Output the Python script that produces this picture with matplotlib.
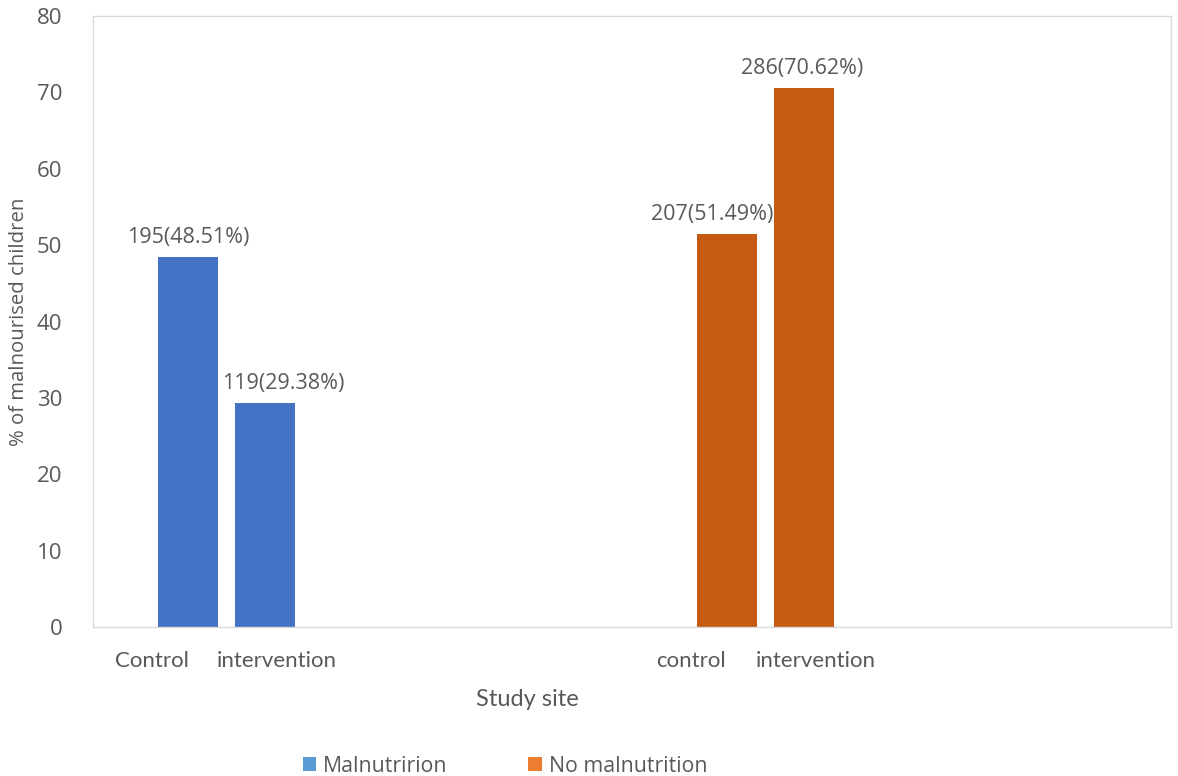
import numpy as np
import matplotlib.pyplot as plt
from matplotlib.patches import Patch

# data
groups = ["Malnutririon", "No malnutrition"]
sites = ["Control", "intervention"]
site_labels = [["Control", "intervention"], ["control", "intervention"]]
counts = [[195, 119], [207, 286]]
percents = [[48.51, 29.38], [51.49, 70.62]]

bar_colors = ["#4472C4", "#C55A11"]
legend_colors = ["#5B9BD5", "#ED7D31"]
grey = "#595959"

plt.rcParams['font.family'] = ['Open Sans', 'DejaVu Sans']

fig = plt.figure(figsize=(11.78, 7.76), dpi=100)
ax = fig.add_axes([93/1178, 149/776, 1078/1178, 611/776])

group_pos = np.arange(len(groups)) + 0.5
bar_offsets = [-0.323, -0.181]
label_offsets = [-0.391, -0.159]
# manual nudges for the data labels (points)
text_nudge = [[(0, 0), (13, 0)], [(-11, 0), (-1, 0)]]
width = 0.111

tick_pos, tick_lab = [], []
for g in range(len(groups)):
    for s in range(len(sites)):
        x = group_pos[g] + bar_offsets[s]
        y = percents[g][s]
        ax.bar(x, y, width=width, color=bar_colors[g])
        dx, dy = text_nudge[g][s]
        ax.annotate(f"{counts[g][s]}({y:.2f}%)", (x, y), xytext=(dx, 6 + dy),
                    textcoords="offset points", ha="center", va="bottom",
                    fontsize=15.5, color=grey)
        tick_pos.append(group_pos[g] + label_offsets[s])
        tick_lab.append(site_labels[g][s])

ax.set_xlim(0, 2)
ax.set_ylim(0, 80)
ax.set_yticks(np.arange(0, 81, 10))
ax.set_xticks(tick_pos)
ax.set_xticklabels(tick_lab, fontsize=16, color=grey, family=['Lato', 'DejaVu Sans'])
ax.tick_params(axis='y', length=0, pad=22, labelsize=16, labelcolor=grey)
ax.tick_params(axis='x', length=0, pad=17)
for sp in ax.spines.values():
    sp.set_color("#D9D9D9")
    sp.set_linewidth(1)

ax.set_ylabel("% of malnourised children", fontsize=14.7, color=grey, labelpad=6)
fig.text(527/1178, 1 - 700/776, "Study site", ha="center", va="center",
         fontsize=17, color=grey, family=['Lato', 'DejaVu Sans'])

handles = [Patch(facecolor=c, edgecolor='none') for c in legend_colors]
fig.legend(handles, groups, loc="center", bbox_to_anchor=(505/1178, 1 - 766/776),
           ncol=2, frameon=False, fontsize=15.3, labelcolor=grey,
           handlelength=0.62, handleheight=0.62, handletextpad=0.35, columnspacing=3.8)

fig.savefig("out.png", dpi=100)
